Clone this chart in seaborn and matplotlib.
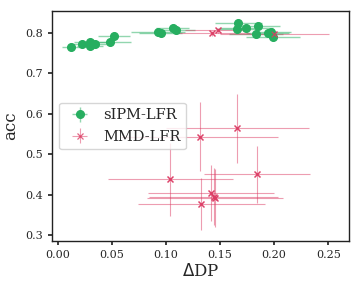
import numpy as np
import pandas as pd
import matplotlib
matplotlib.use('Agg')
import matplotlib.pyplot as plt
from matplotlib.colors import to_rgba
import seaborn as sns

# sIPM-LFR runs: fairness gap, accuracy and their spreads
sipm_dp = [0.012, 0.022, 0.030, 0.030, 0.034, 0.048, 0.052, 0.093, 0.095, 0.106, 0.109,
           0.167, 0.166, 0.174, 0.1855, 0.183, 0.194, 0.1975, 0.199]
sipm_acc = [0.765, 0.773, 0.777, 0.768, 0.773, 0.777, 0.791, 0.802, 0.800, 0.812, 0.807,
            0.825, 0.809, 0.811, 0.817, 0.798, 0.800, 0.803, 0.790]
sipm_dp_err = [0.008, 0.010, 0.015, 0.012, 0.012, 0.020, 0.015, 0.025, 0.020, 0.015, 0.018,
               0.022, 0.020, 0.025, 0.020, 0.025, 0.020, 0.018, 0.025]
sipm_acc_err = [0.004, 0.004, 0.005, 0.005, 0.004, 0.004, 0.005, 0.006, 0.005, 0.005, 0.004,
                0.005, 0.005, 0.004, 0.005, 0.006, 0.005, 0.005, 0.006]

# MMD-LFR runs
mmd_dp = [0.1426, 0.148, 0.2003, 0.166, 0.131, 0.104, 0.184, 0.1417, 0.145, 0.144, 0.1327]
mmd_acc = [0.799, 0.806, 0.797, 0.564, 0.543, 0.438, 0.450, 0.404, 0.392, 0.395, 0.377]
mmd_dp_err = [0.035, 0.030, 0.050, 0.066, 0.073, 0.058, 0.049, 0.058, 0.063, 0.060, 0.059]
mmd_acc_err = [0.006, 0.006, 0.008, 0.085, 0.085, 0.090, 0.070, 0.070, 0.072, 0.070, 0.065]

green = '#27ae60'
pink = '#dc3c64'

sns.set_theme(style="ticks")
plt.rcParams['font.family'] = ['DejaVu Serif']

df_sipm = pd.DataFrame({'dp': sipm_dp, 'acc': sipm_acc})
df_mmd = pd.DataFrame({'dp': mmd_dp, 'acc': mmd_acc})

fig = plt.figure(figsize=(3.6, 2.88), dpi=100)
ax = fig.add_axes([0.144, 0.163, 0.826, 0.799])

# error bars (light) with solid markers for the legend
ax.errorbar(sipm_dp, sipm_acc, xerr=sipm_dp_err, yerr=sipm_acc_err, fmt='o',
            color=green, ecolor=to_rgba(green, 0.5), elinewidth=1, markersize=5.5,
            label='sIPM-LFR')
ax.errorbar(mmd_dp, mmd_acc, xerr=mmd_dp_err, yerr=mmd_acc_err, fmt='x',
            color=to_rgba(pink, 0.8), ecolor=to_rgba(pink, 0.5), elinewidth=0.8,
            markersize=4.5, markeredgewidth=0.9, label='MMD-LFR')

# markers on top
sns.scatterplot(data=df_sipm, x='dp', y='acc', ax=ax, color=green, s=30,
                linewidth=0, legend=False, zorder=3)
sns.scatterplot(data=df_mmd, x='dp', y='acc', ax=ax, color=pink, marker='x', s=16,
                linewidth=0.9, alpha=0.85, legend=False, zorder=3)

ax.set_xlim(-0.0056, 0.2694)
ax.set_ylim(0.285, 0.854)
ax.set_xticks([0.00, 0.05, 0.10, 0.15, 0.20, 0.25])
ax.set_yticks([0.3, 0.4, 0.5, 0.6, 0.7, 0.8])
ax.tick_params(labelsize=8, length=3)
ax.set_xlabel(r'$\Delta$DP', fontsize=12, labelpad=2)
ax.set_ylabel('acc', fontsize=12, labelpad=4)
for s in ax.spines.values():
    s.set_color('#222222')
    s.set_linewidth(1)

ax.legend(loc='center left', fontsize=10.5, handletextpad=0.6,
          borderpad=0.4, framealpha=0.8)

fig.savefig('out.png', dpi=100)
